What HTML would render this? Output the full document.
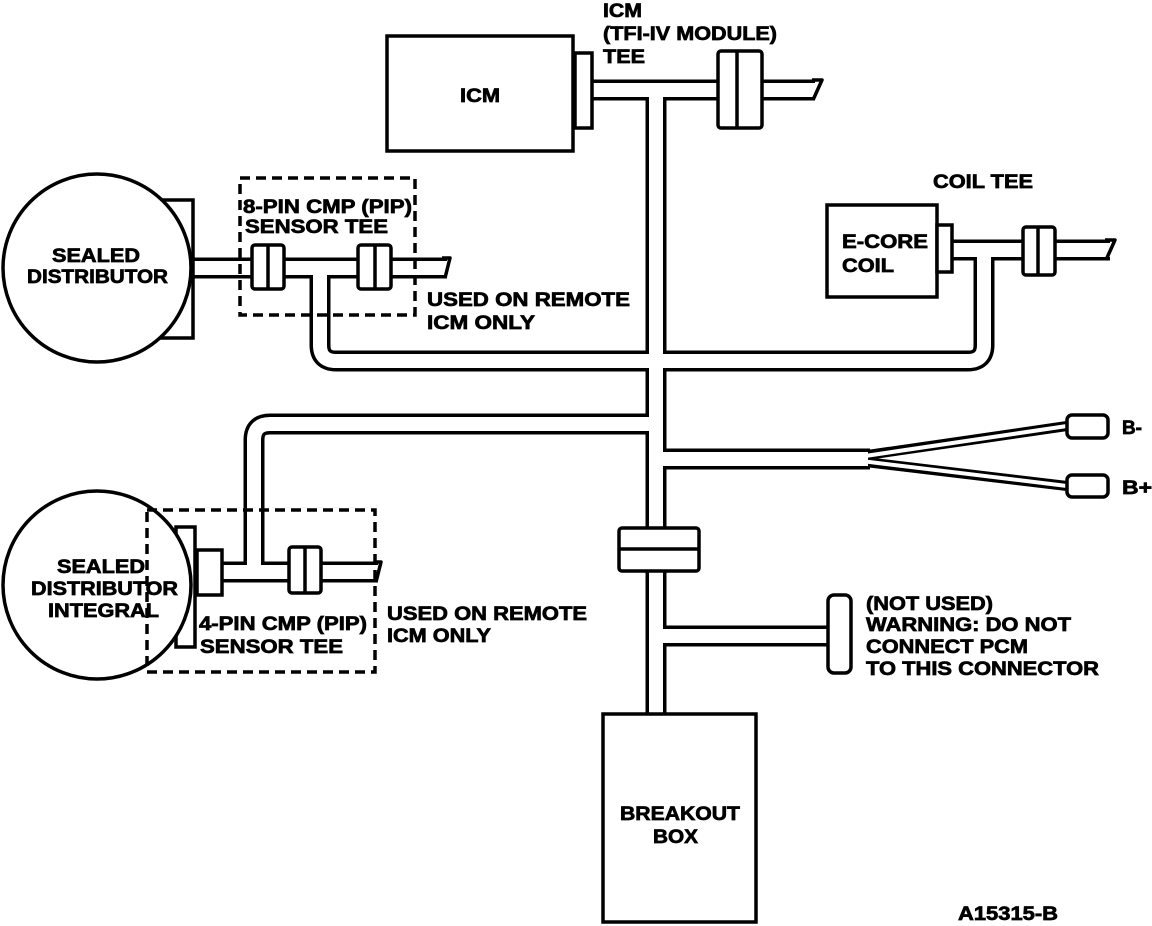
<!DOCTYPE html>
<html><head><meta charset="utf-8"><style>
html,body{margin:0;padding:0;background:#fff;}
svg{display:block;}
text{font-family:"Liberation Sans",Arial,sans-serif;font-weight:bold;font-size:19px;fill:#000;stroke:#000;stroke-width:0.7px;}
</style></head><body>
<svg width="1152" height="926" viewBox="0 0 1152 926" xmlns="http://www.w3.org/2000/svg">
<g fill="none" stroke-linecap="butt" stroke-linejoin="round">
  <g stroke="#000" stroke-width="21">
    <path d="M592,90 H815"/>
    <path d="M656,90 V714"/>
    <path d="M193,268 H447"/>
    <path d="M320,268 V345 Q320,361 336,361 H968 Q984,361 984,345 V250"/>
    <path d="M952,250 H1110"/>
    <path d="M222,572 H378"/>
    <path d="M254,572 V440 Q254,424 270,424 H656"/>
    <path d="M656,459 H870"/>
    <path d="M656,636 H828"/>
  </g>
  <g stroke="#000" stroke-width="10">
    <path d="M840,459 L1067,426"/>
    <path d="M840,459 L1067,486"/>
  </g>
  <g stroke="#fff" stroke-width="4">
    <path d="M845,459 L1067,426"/>
    <path d="M845,459 L1067,486"/>
  </g>
  <g stroke="#fff" stroke-width="14">
    <path d="M592,90 H815"/>
    <path d="M656,90 V714"/>
    <path d="M193,268 H447"/>
    <path d="M320,268 V345 Q320,361 336,361 H968 Q984,361 984,345 V250"/>
    <path d="M952,250 H1110"/>
    <path d="M222,572 H378"/>
    <path d="M254,572 V440 Q254,424 270,424 H656"/>
    <path d="M656,459 H868"/>
    <path d="M656,636 H828"/>
  </g>
  <g stroke="#000" stroke-width="3.5">
    <path d="M813,100 L822,80 H812"/>
    <path d="M445,278 L450,258 H442"/>
    <path d="M1106,260 L1115,240 H1105"/>
    <path d="M376,582 L381,562 H374"/>
  </g>
</g>
<g fill="#fff" stroke="#000" stroke-width="3.5">
  <rect x="387" y="36" width="186" height="115"/>
  <rect x="575" y="53" width="17" height="75"/>
  <rect x="718" y="51" width="44" height="77" rx="3"/>
  <line x1="737" y1="51" x2="737" y2="128"/>
  <rect x="150" y="200" width="43" height="138"/>
  <circle cx="97" cy="268" r="94"/>
  <rect x="252" y="245" width="32" height="44" rx="3"/>
  <line x1="268" y1="245" x2="268" y2="289"/>
  <rect x="358" y="245" width="33" height="44" rx="3"/>
  <line x1="375" y1="245" x2="375" y2="289"/>
  <rect x="827" y="205" width="110" height="92"/>
  <rect x="937" y="225" width="15" height="47"/>
  <rect x="1023" y="227" width="32" height="48" rx="3"/>
  <line x1="1038" y1="227" x2="1038" y2="275"/>
  <rect x="176" y="527" width="19" height="120"/>
  <circle cx="97" cy="585" r="94"/>
  <rect x="197" y="550" width="25" height="45"/>
  <rect x="289" y="547" width="32" height="46" rx="3"/>
  <line x1="305" y1="547" x2="305" y2="593"/>
  <rect x="619" y="528" width="80" height="43" rx="3"/>
  <line x1="619" y1="549" x2="699" y2="549"/>
  <rect x="828" y="595" width="23" height="78" rx="6"/>
  <rect x="1067" y="415" width="41" height="23" rx="5"/>
  <rect x="1067" y="475" width="41" height="22" rx="5"/>
  <rect x="603" y="714" width="153" height="208"/>
</g>
<g fill="none" stroke="#000" stroke-width="3.5" stroke-dasharray="10,6">
  <rect x="240" y="178" width="175" height="137"/>
  <rect x="147" y="510" width="228" height="162"/>
</g>
<g>
  <text x="460" y="102" textLength="40" lengthAdjust="spacingAndGlyphs">ICM</text>
  <text x="603" y="17" textLength="39" lengthAdjust="spacingAndGlyphs">ICM</text>
  <text x="603" y="40" textLength="174" lengthAdjust="spacingAndGlyphs">(TFI-IV MODULE)</text>
  <text x="603" y="63" textLength="42" lengthAdjust="spacingAndGlyphs">TEE</text>
  <text x="933" y="188" textLength="100" lengthAdjust="spacingAndGlyphs">COIL TEE</text>
  <text x="842" y="248" textLength="86" lengthAdjust="spacingAndGlyphs">E-CORE</text>
  <text x="842" y="272" textLength="52" lengthAdjust="spacingAndGlyphs">COIL</text>
  <text x="52" y="262" textLength="88" lengthAdjust="spacingAndGlyphs">SEALED</text>
  <text x="27" y="283" textLength="141" lengthAdjust="spacingAndGlyphs">DISTRIBUTOR</text>
  <text x="243" y="213" textLength="169" lengthAdjust="spacingAndGlyphs">8-PIN CMP (PIP)</text>
  <text x="245" y="233" textLength="143" lengthAdjust="spacingAndGlyphs">SENSOR TEE</text>
  <text x="427" y="306" textLength="203" lengthAdjust="spacingAndGlyphs">USED ON REMOTE</text>
  <text x="427" y="329" textLength="108" lengthAdjust="spacingAndGlyphs">ICM ONLY</text>
  <text x="57" y="573" textLength="88" lengthAdjust="spacingAndGlyphs">SEALED</text>
  <text x="31" y="595" textLength="147" lengthAdjust="spacingAndGlyphs">DISTRIBUTOR</text>
  <text x="48" y="617" textLength="111" lengthAdjust="spacingAndGlyphs">INTEGRAL</text>
  <text x="199" y="630" textLength="168" lengthAdjust="spacingAndGlyphs">4-PIN CMP (PIP)</text>
  <text x="200" y="653" textLength="143" lengthAdjust="spacingAndGlyphs">SENSOR TEE</text>
  <text x="387" y="620" textLength="200" lengthAdjust="spacingAndGlyphs">USED ON REMOTE</text>
  <text x="387" y="642" textLength="104" lengthAdjust="spacingAndGlyphs">ICM ONLY</text>
  <text x="1122" y="434" textLength="20" lengthAdjust="spacingAndGlyphs">B-</text>
  <text x="1122" y="494" textLength="30" lengthAdjust="spacingAndGlyphs">B+</text>
  <text x="866" y="610" textLength="127" lengthAdjust="spacingAndGlyphs">(NOT USED)</text>
  <text x="866" y="631" textLength="205" lengthAdjust="spacingAndGlyphs">WARNING: DO NOT</text>
  <text x="866" y="653" textLength="162" lengthAdjust="spacingAndGlyphs">CONNECT PCM</text>
  <text x="866" y="675" textLength="233" lengthAdjust="spacingAndGlyphs">TO THIS CONNECTOR</text>
  <text x="620" y="820" textLength="120" lengthAdjust="spacingAndGlyphs">BREAKOUT</text>
  <text x="653" y="843" textLength="45" lengthAdjust="spacingAndGlyphs">BOX</text>
  <text x="958" y="920" textLength="100" lengthAdjust="spacingAndGlyphs">A15315-B</text>
</g>
</svg>
</body></html>
